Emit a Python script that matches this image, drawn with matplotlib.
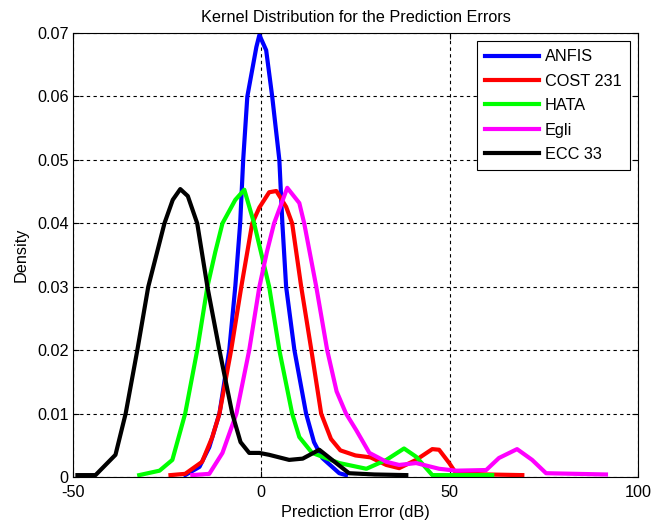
import numpy as np
import matplotlib
matplotlib.use("Agg")
from matplotlib import pyplot as plt

plt.rcParams['font.family'] = ['Liberation Sans', 'DejaVu Sans']
plt.rcParams['axes.unicode_minus'] = False

# kernel density estimates
anfis_x = [-20.2, -16.4, -13.8, -11.1, -8.5, -6.9, -5.6, -4.8, -3.7, -1.3, -0.5, 1.3, 2.9,
           4.8, 5.6, 6.6, 8.8, 11.9, 14.0, 16.2, 20.7, 22.5]
anfis_y = [0.0003, 0.0016, 0.0047, 0.01, 0.02, 0.03, 0.04, 0.05, 0.06, 0.0678, 0.0697,
           0.0673, 0.06, 0.05, 0.04, 0.03, 0.02, 0.01, 0.0055, 0.003, 0.0006, 0.0003]

cost_x = [-24.1, -20.2, -15.7, -13.0, -11.1, -8.0, -5.3, -2.4, -0.5, 2.1, 4.0, 6.6, 8.2,
          10.6, 13.3, 15.9, 18.5, 21.0, 25.0, 29.0, 33.2, 36.6, 41.1, 45.4, 47.2, 49.9,
          51.7, 60.0, 69.3]
cost_y = [0.0003, 0.0005, 0.0024, 0.0063, 0.01, 0.02, 0.03, 0.04, 0.0425, 0.0449, 0.0451,
          0.0426, 0.04, 0.03, 0.02, 0.01, 0.006, 0.0042, 0.0034, 0.0031, 0.0019, 0.0014,
          0.0027, 0.0044, 0.0043, 0.0022, 0.0006, 0.0004, 0.0003]

hata_x = [-32.4, -27.0, -23.6, -20.2, -17.0, -14.3, -12.2, -10.3, -6.9, -4.5, -1.9, 2.1,
          4.8, 8.2, 10.1, 13.5, 20.7, 27.9, 33.2, 37.9, 41.1, 45.4, 61.3]
hata_y = [0.0003, 0.001, 0.0027, 0.01, 0.02, 0.03, 0.0355, 0.04, 0.0437, 0.0453, 0.04,
          0.03, 0.02, 0.01, 0.0063, 0.0038, 0.0022, 0.0013, 0.0027, 0.0045, 0.0032,
          0.0003, 0.0003]

egli_x = [-18.3, -13.8, -10.3, -6.6, -3.2, -0.5, 1.5, 3.4, 6.9, 10.1, 11.4, 14.6, 17.5,
          20.0, 22.5, 25.2, 28.7, 33.2, 36.6, 41.1, 47.2, 51.7, 59.7, 63.1, 67.9, 71.9,
          75.6, 91.5]
egli_y = [0.0003, 0.0005, 0.0038, 0.01, 0.02, 0.03, 0.0355, 0.04, 0.0456, 0.0432, 0.04,
          0.03, 0.02, 0.0135, 0.01, 0.0074, 0.0038, 0.0024, 0.0019, 0.0022, 0.0013, 0.001,
          0.0011, 0.003, 0.0044, 0.0027, 0.0006, 0.0004]

ecc_x = [-48.8, -44.0, -38.7, -36.0, -32.9, -30.0, -25.7, -23.5, -21.5, -19.5, -17.0,
         -14.3, -11.1, -7.7, -5.5, -3.2, -0.5, 2.1, 7.4, 11.0, 15.4, 18.8, 23.3, 30.0, 38.5]
ecc_y = [0.0003, 0.0003, 0.0035, 0.01, 0.02, 0.03, 0.04, 0.0437, 0.0454, 0.0443, 0.04,
         0.03, 0.02, 0.01, 0.0055, 0.0038, 0.0038, 0.0035, 0.0027, 0.0029, 0.0043, 0.0027,
         0.0006, 0.0004, 0.0003]

names = ['ANFIS', 'COST 231', 'HATA', 'Egli', 'ECC 33']
colors = ['#0000ff', '#ff0000', '#00ff00', '#ff00ff', '#000000']
xs = [anfis_x, cost_x, hata_x, egli_x, ecc_x]
ys = [anfis_y, cost_y, hata_y, egli_y, ecc_y]

fs = 11.7
fig = plt.figure(figsize=(6.51, 5.25), dpi=100)
ax = fig.add_axes([0.112, 0.0914, 0.868, 0.8456])

for x, y, n, c in zip(xs, ys, names, colors):
    ax.plot(x, y, color=c, linewidth=3.0, label=n)

ax.set_xlim(-50, 100)
ax.set_ylim(0, 0.07)
ax.set_xticks([-50, 0, 50, 100])
ax.set_yticks(np.arange(0, 0.0701, 0.01))
ax.set_yticklabels(['0', '0.01', '0.02', '0.03', '0.04', '0.05', '0.06', '0.07'])
ax.tick_params(direction='in', length=4, labelsize=fs, colors='black', top=True, right=True)
ax.tick_params(axis='x', pad=6)
ax.tick_params(axis='y', pad=3)
ax.grid(True, color='black', linestyle=(0, (3, 3)), linewidth=0.8)

for s in ax.spines.values():
    s.set_linewidth(0.8)

ax.set_title('Kernel Distribution for the Prediction Errors', fontsize=fs, pad=8)
ax.set_xlabel('Prediction Error (dB)', fontsize=fs, labelpad=3)
ax.set_ylabel('Density', fontsize=fs, labelpad=6)

leg = ax.legend(loc='upper right', fontsize=fs, fancybox=False, framealpha=1,
                edgecolor='black', handlelength=3.3, handletextpad=0.4,
                borderaxespad=0.5, labelspacing=0.58, borderpad=0.5)
leg.get_frame().set_linewidth(0.8)

fig.savefig('out.png', dpi=100)
